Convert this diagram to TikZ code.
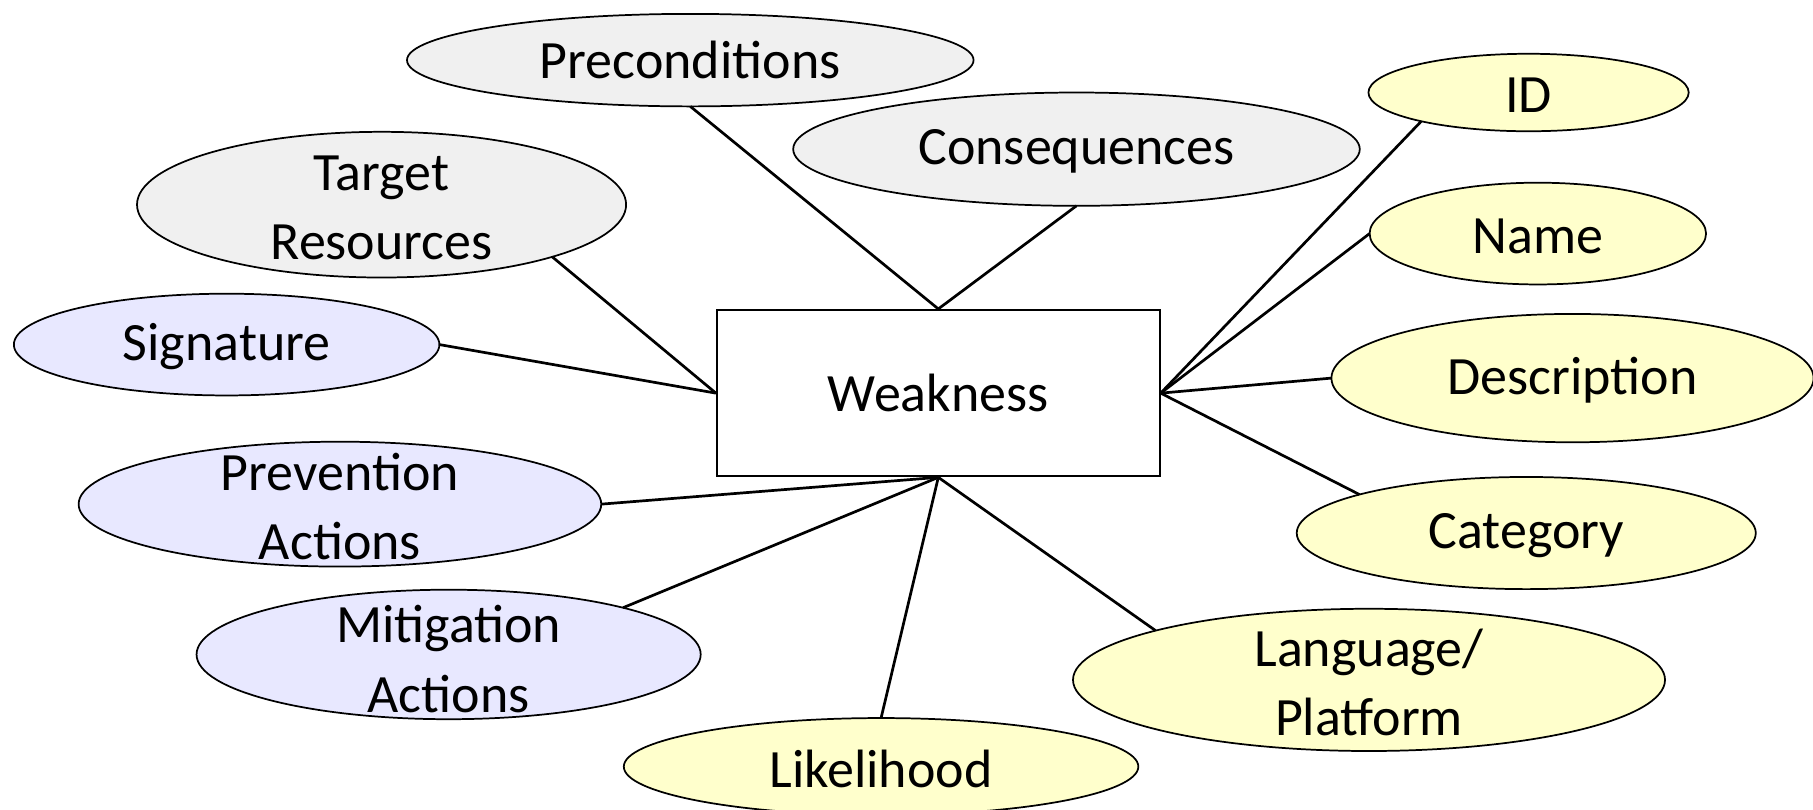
\documentclass[tikz,border=0pt]{standalone}
\usepackage{fontspec}
\setmainfont{Carlito}
\usetikzlibrary{shapes.geometric}
\definecolor{attrgray}{HTML}{F0F0F0}
\definecolor{attrblue}{HTML}{E8E8FF}
\definecolor{attryellow}{HTML}{FFFFCC}
\begin{document}
\begin{tikzpicture}[x=0.6pt,y=-0.6pt,
  sz/.style 2 args={minimum width=#1*0.6pt, minimum height=#2*0.6pt},
  ell/.style={ellipse, draw=black, line width=0.9pt, inner sep=0pt, outer sep=0pt},
  grayell/.style={ell, fill=attrgray},
  blueell/.style={ell, fill=attrblue},
  yellowell/.style={ell, fill=attryellow},
  txt/.style={inner sep=0pt, align=center, font=\fontsize{28}{36}\selectfont},
  entity/.style={draw=black, line width=1pt, fill=white, inner sep=0pt},
  link/.style={line width=1.4pt}]
\useasboundingbox (0,0) rectangle (1568,700);

% central entity
\node[entity, sz={383}{144}] (weak) at (811.5,340) {};
\node[txt] (weak-t) at (weak) {Weakness};

% attribute ellipses
\node[grayell, sz={490}{80}]   (pre)  at (597,52)   {};
\node[grayell, sz={490}{98}]   (con)  at (931,129)  {};
\node[grayell, sz={423}{126}]  (tar)  at (330,177)  {};
\node[blueell, sz={368}{88}]   (sig)  at (196,298)  {};
\node[blueell, sz={452}{108}]  (prev) at (294,436)  {};
\node[blueell, sz={436}{112}]  (mit)  at (388,566)  {};
\node[yellowell, sz={445}{84}] (lik)  at (762,663)  {};
\node[yellowell, sz={277}{67}] (id)   at (1322,80)  {};
\node[yellowell, sz={291}{88}] (name) at (1330,202) {};
\node[yellowell, sz={417}{111}] (desc) at (1360,327) {};
\node[yellowell, sz={397}{97}] (cat)  at (1320,461) {};
\node[yellowell, sz={512}{123}] (lang) at (1184,588) {};

% connectors
\draw[link] (pre.south)  -- (weak.north);
\draw[link] (con.south)  -- (weak.north);
\draw[link] (tar.-17)    -- (weak.west);
\draw[link] (sig.east)   -- (weak.west);
\draw[link] (prev.east)  -- (weak.south);
\draw[link] (mit.15)     -- (weak.south);
\draw[link] (lik.north)  -- (weak.south);
\draw[link] (lang.167)   -- (weak.south);
\draw[link] (id.195)     -- (weak.east);
\draw[link] (name.west)  -- (weak.east);
\draw[link] (desc.west)  -- (weak.east);
\draw[link] (cat.167)    -- (weak.east);

% labels
\node[txt] (pre-t)  at (597,52)   {Preconditions};
\node[txt] (con-t)  at (931,131)  {Consequences};
\node[txt] (tar-t)  at (330,180)  {Target\\Resources};
\node[txt] (sig-t)  at (196,300)  {Signature};
\node[txt] (prev-t) at (294,438)  {Prevention\\Actions};
\node[txt] (mit-t)  at (388,570)  {Mitigation\\Actions};
\node[txt] (lik-t)  at (762,665)  {Likelihood};
\node[txt] (id-t)   at (1322,82)  {ID};
\node[txt] (name-t) at (1330,204) {Name};
\node[txt] (desc-t) at (1360,329) {Description};
\node[txt] (cat-t)  at (1320,463) {Category};
\node[txt] (lang-t) at (1184,590) {Language/\\Platform};
\end{tikzpicture}
\end{document}
